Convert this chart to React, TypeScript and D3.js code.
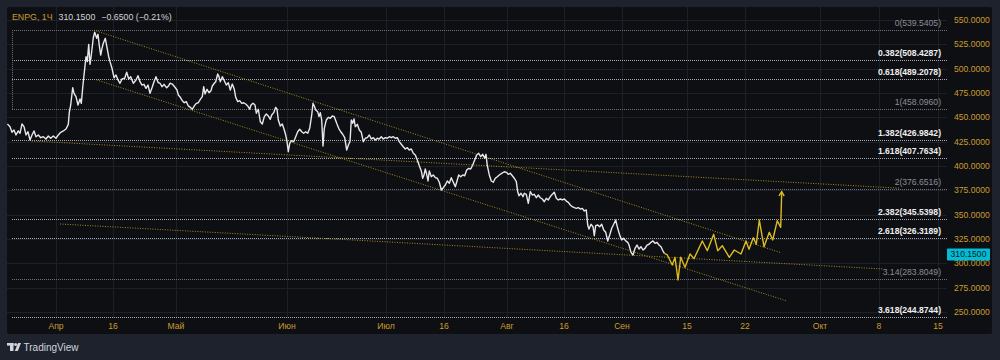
import React from "react";
import * as d3 from "d3";

// ---- Data (t = bar index of resampled hourly bars, v = price) ----
const priceHistory: [number, number][] = [
  [0.2,443.2],[1.5,440.4],[2.5,434.6],[3.5,437.0],[4.5,431.9],[5.65,436.0],[6.5,433.6],[7.5,443.2],[8.5,440.4],[9.5,431.9],
  [10.5,435.2],[11.5,426.7],[12.5,431.9],[13.5,436.0],[14.5,430.1],[15.65,431.9],[16.85,429.1],[18.15,430.1],[19.5,427.7],[20.65,430.8],
  [21.85,428.5],[23.15,430.8],[24.5,428.5],[25.65,431.9],[26.85,434.6],[28.15,436.0],[29.5,438.0],[30.65,442.8],[31.15,455.2],[31.85,462.7],
  [32.85,480.4],[33.5,474.7],[34.5,471.2],[35.5,462.7],[36.5,468.8],[37.15,464.4],[37.85,480.4],[38.5,493.5],[39.5,512.3],[40.15,507.2],
  [40.85,525.0],[41.5,504.5],[42.15,514.0],[43.15,531.8],[43.85,537.4],[44.85,531.2],[45.5,535.3],[46.15,523.6],[46.85,514.0],[47.5,520.9],
  [48.15,526.1],[49.15,531.2],[50.15,520.2],[50.85,512.3],[51.5,507.2],[52.5,500.4],[53.5,490.7],[54.5,493.5],[55.5,488.4],[56.5,485.0],
  [57.5,489.4],[58.85,490.1],[59.85,496.3],[60.85,489.4],[61.85,491.8],[63.15,485.0],[64.5,488.4],[65.5,492.8],[66.5,486.6],[67.5,483.2],
  [68.5,483.9],[69.5,479.8],[70.5,483.2],[71.5,474.7],[72.5,480.4],[73.5,486.6],[74.5,491.8],[75.5,486.0],[76.5,485.0],[77.5,481.5],
  [78.5,483.9],[79.85,480.4],[80.85,482.5],[81.5,485.0],[82.65,484.2],[84,480.9],[85,478.1],[85.65,473.0],[86.65,470.6],[87.65,467.1],
  [88.65,465.0],[89.65,466.1],[90.65,461.7],[91.65,460.3],[92.65,458.3],[93.65,461.7],[94.65,464.4],[95.65,465.0],[96.65,468.5],[97.65,471.2],
  [98.35,481.5],[99,474.0],[100,478.8],[101,475.3],[102,477.4],[102.65,482.2],[103.65,485.0],[104.35,486.6],[105.35,494.5],[106,491.8],
  [106.65,486.6],[107.65,491.8],[108.65,487.6],[109.65,483.2],[110.65,485.6],[111.65,478.1],[112.65,484.2],[113.65,478.8],[114.35,470.6],[115.35,466.1],
  [116.35,467.1],[117.35,464.4],[118.35,465.0],[119.35,463.7],[120.35,461.7],[121.35,458.3],[122,462.7],[123,464.4],[124,462.7],[124.65,454.2],
  [125.65,458.3],[126.65,445.5],[127.65,443.2],[128.65,450.7],[129.65,453.4],[130.65,451.4],[131.65,448.0],[132.35,452.4],[133.35,454.8],[134.35,460.3],
  [135,458.3],[135.65,447.3],[136.65,441.1],[137.65,443.2],[138.65,437.0],[139.35,431.9],[140,425.0],[140.65,414.7],[141.35,423.3],[142.35,426.0],
  [143.35,425.0],[144.35,430.1],[145.35,435.2],[146.35,437.7],[147.35,435.2],[148.35,433.6],[149.35,435.2],[150.35,433.6],[151.35,438.7],[152.35,452.4],
  [153,464.4],[153.65,461.7],[154.35,457.5],[155.35,455.8],[156,450.7],[156.65,454.8],[157.35,447.3],[158,420.5],[158.65,438.7],[159.65,447.3],
  [160.65,450.0],[161.65,449.0],[162.65,451.4],[163.65,450.7],[164.85,443.9],[165.85,438.7],[166.85,435.2],[167.85,432.6],[168.85,429.1],[169.85,416.4],
  [170.85,422.3],[171.5,425.0],[172.15,447.3],[172.85,443.9],[173.5,448.3],[174.15,440.4],[175.15,442.8],[176.15,437.0],[177.15,434.6],[178.15,425.0],
  [179.15,428.5],[180.15,429.1],[181.15,431.9],[182.15,427.7],[183.15,429.1],[184.15,426.7],[185.15,428.5],[186.15,427.7],[187.15,430.1],[188.15,427.7],
  [189.15,429.1],[190.15,428.5],[191.15,430.1],[192.15,429.1],[193.15,430.1],[194.15,428.5],[195.15,429.1],[196.15,425.0],[197.15,422.3],[198.15,419.8],
  [199.15,417.5],[200.15,418.8],[201.15,416.4],[202.15,417.5],[203.15,413.1],[204.15,411.3],[205.15,406.2],[206.15,400.3],[207.15,394.9],[207.85,387.4],
  [208.5,390.8],[209.15,396.9],[209.85,391.5],[210.5,384.6],[211.15,394.9],[212.15,389.0],[213.15,390.8],[214.15,388.0],[215.15,387.4],[216.15,383.3],
  [217.15,375.3],[218.15,377.7],[219.15,380.5],[220.15,384.6],[221.15,382.2],[222.15,388.0],[223.15,383.3],[224.15,378.7],[225.15,385.6],[225.85,390.8],
  [226.85,389.0],[227.85,390.8],[228.85,390.0],[229.85,395.9],[230.85,397.6],[231.85,396.9],[232.85,401.0],[233.85,406.2],[234.85,411.3],[235.85,413.1],
  [236.85,409.6],[237.85,412.0],[238.85,407.9],[239.5,412.0],[240.15,400.3],[241.15,390.8],[242.15,384.6],[243.15,383.3],[244.15,387.4],[245.15,389.0],
  [246.15,390.8],[247.35,392.5],[248.65,394.1],[249.65,393.5],[250.65,391.5],[251.65,392.5],[252.65,390.0],[253.65,387.4],[254.65,383.9],[255.35,373.6],
  [256,369.5],[257,372.0],[258,368.5],[258.65,372.0],[259.65,370.9],[260.65,361.7],[261.65,373.6],[262.65,370.2],[263.65,370.9],[264.65,367.4],
  [265.65,370.2],[266.65,367.4],[267.65,366.1],[268.65,363.3],[269.65,366.8],[270.65,365.1],[271.65,368.5],[272.65,370.9],[273.65,373.0],[274.65,366.8],
  [275.65,365.1],[276.65,366.1],[277.65,365.1],[278.65,366.1],[279.65,364.0],[280.65,362.7],[281.65,359.9],[282.65,358.2],[283.65,357.2],[284.65,356.5],
  [285.65,357.2],[286.65,355.8],[287.65,356.5],[288.65,353.8],[289.65,354.8],[290.35,339.4],[291,335.3],[292,340.1],[293,337.6],[293.65,328.4],
  [294.35,338.7],[295.35,339.4],[296.35,337.6],[297.35,340.1],[298.35,334.3],[299.35,331.9],[300.35,323.0],[301.35,329.1],[302.35,336.0],[303.35,340.1],
  [304.35,344.5],[305.35,336.0],[306.35,329.1],[307.35,324.0],[308.35,325.7],[309.35,323.0],[310.35,321.6],[311,318.8],[312,311.3],[313,308.6],
  [314,315.4],[315,318.8],[316,314.7],[317,317.1],[318,313.7],[319,315.4],[320,318.8],[321,319.6],[322,321.6],[323,323.0],
  [324,320.6],[325,321.6],[326,318.8],[327,317.1],[328,312.7],[328.7,310.15],
];

// projected path (yellow arrow drawing)
const projection: [number, number][] = [
  [328.7,310.15],[330.15,308.6],[332.65,298.3],[334,306.2],[335.5,282.9],[336.85,306.2],[339,295.9],[341.5,309.6],[343.5,304.8],
  [347.65,323.0],[350.15,313.0],[353.35,329.8],[355.35,313.0],[357.65,318.1],[361.15,306.2],[363.65,313.7],[367,309.6],
  [369.5,323.0],[371,314.4],[373.15,326.3],[374.65,319.6],[376.15,344.5],[378.5,317.1],[381.15,331.9],[382.85,324.0],
  [385.15,343.8],[386.85,337.0],[387.35,373.6],
];

// trend lines [t1, v1, t2, v2]
const trendLines: [number, number, number, number][] = [
  [43.5, 539.5, 387, 310.9],
  [44.85, 488.4, 389.5, 261.6],
  [12.35, 425.7, 446.5, 377.2],
  [26.5, 340.4, 438, 294.2],
];

// Fibonacci extension levels
const fibRatios = ["0", "0.382", "0.618", "1", "1.382", "1.618", "2", "2.382", "2.618", "3.14", "3.618"];
const fibValues = [539.5405, 508.4287, 489.2078, 458.096, 426.9842, 407.7634, 376.6516, 345.5398, 326.3189, 283.8049, 244.8744];
const fibBright = [false, true, true, false, true, true, false, true, true, false, true];
const fibStartT = 2.5;

const priceTicks = [250, 275, 300, 325, 350, 375, 400, 425, 450, 475, 500, 525, 550];
const timeTickT = [24.5, 53, 84.5, 140, 189.5, 218.5, 250, 278.5, 307.5, 340, 369, 406.5, 436, 465.5];
const timeTickLabels = ["Апр", "16", "Май", "Июн", "Июл", "16", "Авг", "16", "Сен", "15", "22", "Окт", "8", "15"];

const lastPrice = 310.15;
const change = "−0.6500 (−0.21%)";

// ---- Layout ----
const W = 1000, H = 360;
const panel = { x: 7, y: 7, w: 985, h: 327 };
const plotRight = 947;
const plotBottom = 318;
const FONT = "'Liberation Sans', Arial, sans-serif";
const GOLD = "#c99c30";

export default function App() {
  const x = d3.scaleLinear().domain([0, 470]).range([panel.x, plotRight]);
  const y = d3.scaleLinear().domain([250, 550]).range([312, 20]);

  const line = d3.line<[number, number]>().x((d) => x(d[0])).y((d) => y(d[1]));

  const last = projection[projection.length - 1];
  const prev = projection[projection.length - 2];
  const ax = x(last[0]), ay = y(last[1]);
  const ang = Math.atan2(ay - y(prev[1]), ax - x(prev[0]));
  const headLen = 5, headAng = 0.55;
  const arrowPath = `M${ax - headLen * Math.cos(ang - headAng)},${ay - headLen * Math.sin(ang - headAng)}L${ax},${ay}L${ax - headLen * Math.cos(ang + headAng)},${ay - headLen * Math.sin(ang + headAng)}`;

  return (
    <svg width={W} height={H} style={{ position: "absolute", left: 0, top: 0, display: "block" }} fontFamily={FONT}>
      <defs>
        <clipPath id="plotClip">
          <rect x={panel.x} y={panel.y} width={plotRight - panel.x} height={plotBottom - panel.y} />
        </clipPath>
      </defs>
      <rect x={0} y={0} width={W} height={H} fill="#1e222d" />
      <rect x={panel.x} y={panel.y} width={panel.w} height={panel.h} fill="#0e0f13" rx={2} />

      {/* grid */}
      <g stroke="#1d2029" strokeWidth={1}>
        {priceTicks.map((p) => (
          <line key={"h" + p} x1={panel.x} x2={plotRight} y1={Math.round(y(p)) + 0.5} y2={Math.round(y(p)) + 0.5} />
        ))}
        {timeTickT.map((t, i) => (
          <line key={"v" + i} x1={Math.round(x(t)) + 0.5} x2={Math.round(x(t)) + 0.5} y1={panel.y} y2={plotBottom} />
        ))}
      </g>

      <g clipPath="url(#plotClip)">
        {/* fib levels */}
        {fibValues.map((v, i) => (
          <line key={"f" + i} x1={x(fibStartT)} x2={plotRight} y1={Math.round(y(v)) + 0.5} y2={Math.round(y(v)) + 0.5}
            stroke={fibBright[i] ? "#a9acb4" : "#6f727a"} strokeWidth={1} strokeDasharray="1 1" />
        ))}
        <line x1={Math.round(x(fibStartT)) + 0.5} x2={Math.round(x(fibStartT)) + 0.5} y1={y(fibValues[0])} y2={y(fibValues[3])}
          stroke="#6f727a" strokeWidth={1} strokeDasharray="1 1" />

        {/* trend lines */}
        {trendLines.map((l, i) => (
          <line key={"t" + i} x1={x(l[0])} y1={y(l[1])} x2={x(l[2])} y2={y(l[3])}
            stroke="#a58d1f" strokeWidth={1} strokeDasharray="1 1.5" />
        ))}

        {/* price line */}
        <path d={line(priceHistory) || ""} fill="none" stroke="#e8e8ea" strokeWidth={1.4} strokeLinejoin="round" />

        {/* projection */}
        <path d={line(projection) || ""} fill="none" stroke="#dcbb22" strokeWidth={1.4} strokeLinejoin="round" />
        <path d={arrowPath} fill="none" stroke="#dcbb22" strokeWidth={1.4} />
      </g>

      {/* fib labels */}
      {fibValues.map((v, i) => (
        <text key={"fl" + i} x={941} y={y(v) - 4} textAnchor="end" fontSize={8.6}
          fill={fibBright[i] ? "#eeeeee" : "#8a8d95"} fontWeight={fibBright[i] ? 700 : 400}>
          {`${fibRatios[i]}(${v.toFixed(4)})`}
        </text>
      ))}

      {/* price axis */}
      {priceTicks.map((p) => (
        <text key={"pl" + p} x={954} y={y(p)} dy="0.35em" fontSize={8.6} fill={GOLD}>
          {p.toFixed(4)}
        </text>
      ))}
      <rect x={947} y={y(lastPrice) - 5} width={43} height={12} fill="#00bcd4" rx={1} />
      <text x={968.5} y={y(lastPrice) + 1} dy="0.35em" textAnchor="middle" fontSize={8.6} fill="#131722">
        {lastPrice.toFixed(4)}
      </text>

      {/* time axis */}
      {timeTickT.map((t, i) => (
        <text key={"tl" + i} x={x(t)} y={326} dy="0.35em" textAnchor="middle" fontSize={8.6} fill={GOLD}>
          {timeTickLabels[i]}
        </text>
      ))}

      {/* title */}
      <text x={12} y={19.5} fontSize={8.8}>
        <tspan fill={GOLD}>ENPG, 1Ч</tspan>
        <tspan fill="#d1d4dc" dx={6}>{lastPrice.toFixed(4)}</tspan>
        <tspan fill="#d1d4dc" dx={6}>{change}</tspan>
      </text>

      {/* TradingView logo */}
      <g fill="#d1d4dc">
        <rect x={7} y={343} width={6.5} height={2.6} />
        <rect x={10} y={343} width={3.5} height={8} />
        <circle cx={15.6} cy={344.6} r={1.5} />
        <path d="M18,343 L21,343 L17.8,351 L14.8,351 Z" />
        <text x={23.5} y={351} fontSize={10} fill="#d1d4dc">TradingView</text>
      </g>
    </svg>
  );
}
